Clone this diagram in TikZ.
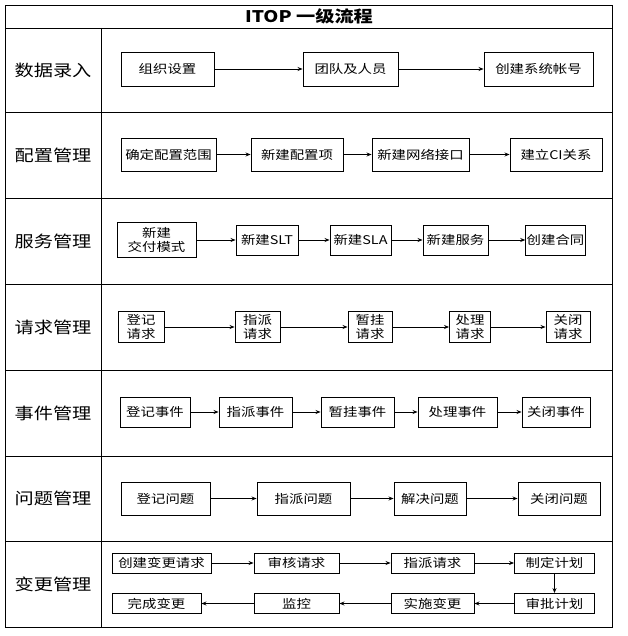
\documentclass[tikz,border=0pt]{standalone}
\usepackage{fontspec}
\setmainfont{Liberation Serif}
\newfontfamily\cjk{Noto Sans CJK SC}[FakeStretch=1.2]
\usetikzlibrary{arrows.meta}
\tikzset{
  box/.style={draw=black, line width=0.9pt, align=center, inner sep=1pt, font=\cjk\fontsize{12}{13.5}\selectfont},
  lane/.style={font=\cjk\fontsize{16}{18}\selectfont},
  grid/.style={draw=black, line width=0.9pt},
  flow/.style={-{Stealth[length=5pt,width=4pt]}, line width=0.8pt}
}

\begin{document}
\begin{tikzpicture}[x=1pt,y=-1pt]
  \useasboundingbox (0,0) rectangle (627,636);
  % table frame
  \draw[grid] (5,5) rectangle (612,627);
  \draw[grid] (5,28) -- (612,28);
  \foreach \yy in {112,198,284,370,456,541} \draw[grid] (5,\yy) -- (612,\yy);
  \draw[grid] (101,28) -- (101,627);
  \node[font=\bfseries\cjk\fontsize{16}{18}\selectfont] (title) at (309,16.5) {ITOP 一级流程};

  % lane labels
  \node[lane] (l1) at (53,70) {数据录入};
  \node[lane] (l2) at (53,155) {配置管理};
  \node[lane] (l3) at (53,241) {服务管理};
  \node[lane] (l4) at (53,327) {请求管理};
  \node[lane] (l5) at (53,413) {事件管理};
  \node[lane] (l6) at (53,498) {问题管理};
  \node[lane] (l7) at (53,584) {变更管理};

  % row 1
  \node[box, minimum width=93pt, minimum height=34pt] (zzsz) at (167.5,69) {组织设置};
  \node[box, minimum width=95pt, minimum height=34pt] (tdry) at (350.5,69) {团队及人员};
  \node[box, minimum width=109pt, minimum height=34pt] (cjzh) at (538.5,69) {创建系统帐号};

  % row 2
  \node[box, minimum width=95pt, minimum height=33pt] (qdfw) at (168.5,154.5) {确定配置范围};
  \node[box, minimum width=92pt, minimum height=33pt] (xjpz) at (297,154.5) {新建配置项};
  \node[box, minimum width=97pt, minimum height=33pt] (xjwl) at (420.5,154.5) {新建网络接口};
  \node[box, minimum width=92pt, minimum height=33pt] (jlci) at (556,154.5) {建立CI关系};

  % row 3
  \node[box, minimum width=79pt, minimum height=35pt] (xjjf) at (156.5,240) {新建\\交付模式};
  \node[box, minimum width=62pt, minimum height=30pt] (xjslt) at (267,240) {新建SLT};
  \node[box, minimum width=61pt, minimum height=30pt] (xjsla) at (360.5,240) {新建SLA};
  \node[box, minimum width=65pt, minimum height=30pt] (xjfw) at (455.5,240) {新建服务};
  \node[box, minimum width=59pt, minimum height=30pt] (cjht) at (555.5,240) {创建合同};

  % row 4
  \node[box, minimum width=46pt, minimum height=31pt] (djqq) at (141,327) {登记\\请求};
  \node[box, minimum width=45pt, minimum height=31pt] (zpqq) at (257.5,327) {指派\\请求};
  \node[box, minimum width=44pt, minimum height=31pt] (zgqq) at (370,327) {暂挂\\请求};
  \node[box, minimum width=41pt, minimum height=31pt] (clqq) at (470,327) {处理\\请求};
  \node[box, minimum width=44pt, minimum height=31pt] (gbqq) at (568,327) {关闭\\请求};

  % row 5
  \node[box, minimum width=70pt, minimum height=30pt] (djsj) at (155,412) {登记事件};
  \node[box, minimum width=73pt, minimum height=30pt] (zpsj) at (255.5,412) {指派事件};
  \node[box, minimum width=73pt, minimum height=30pt] (zgsj) at (357.5,412) {暂挂事件};
  \node[box, minimum width=79pt, minimum height=30pt] (clsj) at (457.5,412) {处理事件};
  \node[box, minimum width=68pt, minimum height=30pt] (gbsj) at (556,412) {关闭事件};

  % row 6
  \node[box, minimum width=89pt, minimum height=33pt] (djwt) at (165.5,498.5) {登记问题};
  \node[box, minimum width=93pt, minimum height=33pt] (zpwt) at (303.5,498.5) {指派问题};
  \node[box, minimum width=72pt, minimum height=33pt] (jjwt) at (430,498.5) {解决问题};
  \node[box, minimum width=82pt, minimum height=33pt] (gbwt) at (559,498.5) {关闭问题};

  % row 7
  \node[box, minimum width=99pt, minimum height=20pt] (cjbg) at (161.5,563) {创建变更请求};
  \node[box, minimum width=85pt, minimum height=20pt] (shqq) at (296.5,563) {审核请求};
  \node[box, minimum width=83pt, minimum height=20pt] (zpbg) at (432.5,563) {指派请求};
  \node[box, minimum width=80pt, minimum height=20pt] (zdjh) at (554.5,563) {制定计划};
  \node[box, minimum width=89pt, minimum height=20pt] (wcbg) at (156.5,603.5) {完成变更};
  \node[box, minimum width=85pt, minimum height=20pt] (jk) at (296.5,603.5) {监控};
  \node[box, minimum width=83pt, minimum height=20pt] (ssbg) at (432.5,603.5) {实施变更};
  \node[box, minimum width=80pt, minimum height=20pt] (spjh) at (554.5,603.5) {审批计划};

  \draw[flow] (zzsz) -- (tdry);
  \draw[flow] (tdry) -- (cjzh);
  \draw[flow] (qdfw) -- (xjpz);
  \draw[flow] (xjpz) -- (xjwl);
  \draw[flow] (xjwl) -- (jlci);
  \draw[flow] (xjjf) -- (xjslt);
  \draw[flow] (xjslt) -- (xjsla);
  \draw[flow] (xjsla) -- (xjfw);
  \draw[flow] (xjfw) -- (cjht);
  \draw[flow] (djqq) -- (zpqq);
  \draw[flow] (zpqq) -- (zgqq);
  \draw[flow] (zgqq) -- (clqq);
  \draw[flow] (clqq) -- (gbqq);
  \draw[flow] (djsj) -- (zpsj);
  \draw[flow] (zpsj) -- (zgsj);
  \draw[flow] (zgsj) -- (clsj);
  \draw[flow] (clsj) -- (gbsj);
  \draw[flow] (djwt) -- (zpwt);
  \draw[flow] (zpwt) -- (jjwt);
  \draw[flow] (jjwt) -- (gbwt);
  \draw[flow] (cjbg) -- (shqq);
  \draw[flow] (shqq) -- (zpbg);
  \draw[flow] (zpbg) -- (zdjh);
  \draw[flow] (zdjh) -- (spjh);
  \draw[flow] (spjh) -- (ssbg);
  \draw[flow] (ssbg) -- (jk);
  \draw[flow] (jk) -- (wcbg);
\end{tikzpicture}
\end{document}
